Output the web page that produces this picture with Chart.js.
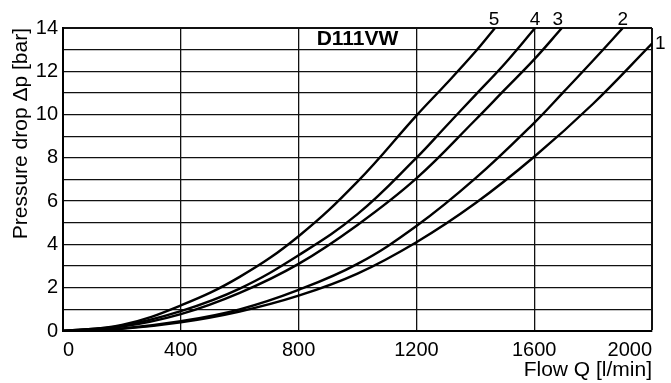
<!DOCTYPE html>
<html>
<head>
<meta charset="utf-8">
<title>D111VW pressure drop</title>
<script src="https://cdn.jsdelivr.net/npm/chart.js@4.4.1/dist/chart.umd.min.js"></script>
<style>
  html, body { margin: 0; padding: 0; background: #fff; }
  #wrap { width: 671px; height: 383px; position: relative; }
</style>
</head>
<body>
<div id="wrap"><canvas id="flowChart"></canvas></div>
<script>
// values
var chartTitle = 'D111VW';
var curveNames = ['1', '2', '3', '4', '5'];

var flow1 = [0, 200, 400, 600, 800, 1000, 1200, 1400, 1600, 1800, 2000];
var drop1 = [0, 0.1, 0.4, 0.9, 1.63, 2.65, 4.1, 5.9, 8.05, 10.5, 13.28];

var flow2 = [0, 200, 400, 600, 800, 1000, 1200, 1400, 1600, 1700, 1800, 1901];
var drop2 = [0, 0.12, 0.45, 1.0, 1.9, 3.1, 4.85, 7.05, 9.62, 11.05, 12.5, 14];

var flow3 = [0, 200, 400, 600, 800, 1000, 1200, 1400, 1500, 1600, 1694];
var drop3 = [0, 0.2, 0.78, 1.76, 3.1, 4.9, 7.05, 9.75, 11.15, 12.55, 14];

var flow4 = [0, 200, 400, 600, 800, 1000, 1200, 1300, 1400, 1500, 1603];
var drop4 = [0, 0.25, 0.92, 1.96, 3.5, 5.4, 8.0, 9.45, 10.9, 12.35, 14];

var flow5 = [0, 200, 400, 600, 800, 1000, 1200, 1300, 1400, 1467];
var drop5 = [0, 0.28, 1.18, 2.5, 4.38, 6.9, 9.95, 11.4, 12.9, 14];

var flowTicks = [0, 400, 800, 1200, 1600, 2000];
var dropTicks = [0, 2, 4, 6, 8, 10, 12, 14];

var flows = [flow1, flow2, flow3, flow4, flow5];
var drops = [drop1, drop2, drop3, drop4, drop5];

function toPoints(fl, dr) {
    return fl.map(function (q, i) { return { x: q, y: dr[i] }; });
}

var datasets = curveNames.map(function (name, i) {
    return {
        label: name,
        data: toPoints(flows[i], drops[i]),
        showLine: true,
        borderColor: '#000',
        borderWidth: 2.4,
        pointRadius: 0,
        tension: 0.4,
        fill: false
    };
});

// curve numbers and the type label inside the plot
var labelShift = [0, 0, -4, 0, -1];
var curveLabels = {
    id: 'curveLabels',
    afterDatasetsDraw: function (chart) {
        var c = chart.ctx;
        var xs = chart.scales.x, ys = chart.scales.y;
        var area = chart.chartArea;
        c.save();
        c.fillStyle = '#000';
        c.font = '19px "Liberation Sans", Arial, sans-serif';
        chart.data.datasets.forEach(function (ds, i) {
            var last = ds.data[ds.data.length - 1];
            var px = xs.getPixelForValue(last.x);
            var py = ys.getPixelForValue(last.y);
            if (last.y >= ys.max) {
                c.textAlign = 'center';
                c.textBaseline = 'alphabetic';
                c.fillText(ds.label, px + labelShift[i], area.top - 3);
            } else {
                c.textAlign = 'left';
                c.textBaseline = 'middle';
                c.fillText(ds.label, px + 3, py);
            }
        });
        c.font = 'bold 21px "Liberation Sans", Arial, sans-serif';
        c.textAlign = 'center';
        c.textBaseline = 'middle';
        c.fillText(chartTitle, xs.getPixelForValue(1000), ys.getPixelForValue(13.5));
        c.restore();
    }
};

Chart.defaults.font.family = '"Liberation Sans", Arial, sans-serif';
Chart.defaults.font.size = 20;
Chart.defaults.color = '#000';

var ctx = document.getElementById('flowChart').getContext('2d');
var myChart = new Chart(ctx, {
    type: 'scatter',
    data: { datasets: datasets },
    plugins: [curveLabels],
    options: {
        responsive: true,
        maintainAspectRatio: false,
        animation: false,
        layout: { padding: { top: 28, right: 19, left: 0, bottom: 0 } },
        plugins: {
            legend: { display: false },
            tooltip: { enabled: false }
        },
        scales: {
            x: {
                type: 'linear',
                min: 0,
                max: 2000,
                afterFit: function (s) { s.height = 52; },
                afterBuildTicks: function (s) {
                    s.ticks = flowTicks.map(function (v) { return { value: v }; });
                },
                ticks: {
                    padding: 7,
                    align: 'inner',
                    maxRotation: 0,
                    color: '#000',
                    callback: function (v) { return String(v); }
                },
                grid: {
                    color: '#111',
                    drawTicks: false,
                    lineWidth: function (c) { return c.tick && c.tick.value === 2000 ? 2 : 1.3; }
                },
                border: { color: '#000', width: 2 },
                title: {
                    display: true,
                    text: 'Flow Q [l/min]',
                    align: 'end',
                    color: '#000',
                    font: { size: 21 },
                    padding: { top: 0, bottom: 0 }
                }
            },
            y: {
                min: 0,
                max: 14,
                afterFit: function (s) { s.width = 63; },
                ticks: {
                    stepSize: 1,
                    autoSkip: false,
                    padding: 5,
                    color: '#000',
                    callback: function (v) { return dropTicks.indexOf(v) >= 0 ? String(v) : ''; }
                },
                grid: {
                    color: '#111',
                    drawTicks: false,
                    lineWidth: function (c) { return c.tick && c.tick.value === 14 ? 2 : 1.3; }
                },
                border: { color: '#000', width: 2 },
                title: {
                    display: true,
                    text: 'Pressure drop Δp [bar]',
                    align: 'end',
                    color: '#000',
                    font: { size: 21 },
                    padding: { top: 9, bottom: 0 }
                }
            }
        }
    }
});
</script>
</body>
</html>
